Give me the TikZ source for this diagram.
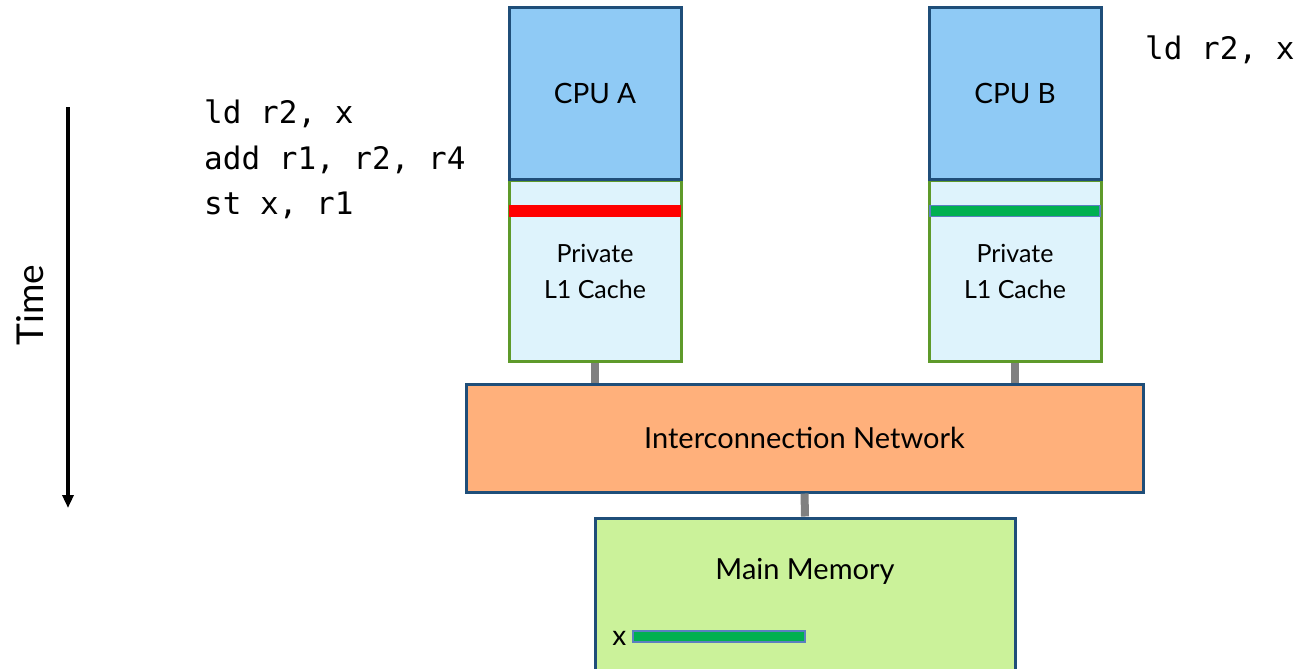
\documentclass[tikz,border=0pt]{standalone}
\usepackage{fontspec}
\setmainfont{Lato}
\newfontfamily\codefont{DejaVu Sans Mono}
\usetikzlibrary{arrows.meta}
\definecolor{cpufill}{HTML}{8FCAF5}
\definecolor{darkbord}{HTML}{1F4E79}
\definecolor{cachefill}{HTML}{DEF3FC}
\definecolor{cachebord}{HTML}{5E9A2A}
\definecolor{netfill}{HTML}{FFB07B}
\definecolor{memfill}{HTML}{CBF29A}
\definecolor{lgreen}{HTML}{00B050}
\definecolor{lblue}{HTML}{5A7FC0}
\definecolor{wire}{HTML}{808080}
\tikzset{
  cpubox/.style={draw=darkbord, fill=cpufill, line width=3pt, minimum width=172pt, minimum height=171pt, inner sep=0pt, font=\fontsize{28}{34}\selectfont},
  cachebox/.style={draw=cachebord, fill=cachefill, line width=3pt, minimum width=172pt, minimum height=181pt, inner sep=0pt, align=center, font=\fontsize{25}{36}\selectfont},
  netbox/.style={draw=darkbord, fill=netfill, line width=3pt, minimum width=677pt, minimum height=108pt, inner sep=0pt, font=\fontsize{29}{34}\selectfont},
  membox/.style={draw=darkbord, fill=memfill, line width=3pt, minimum width=420pt, minimum height=152pt, inner sep=0pt},
  code/.style={font=\codefont\fontsize{31}{45.5}\selectfont, align=left, inner sep=0pt},
  wireline/.style={draw=wire, line width=8pt},
}
\begin{document}
\begin{tikzpicture}[x=1pt,y=-1pt]
\useasboundingbox (0,0) rectangle (1298,669);
% CPU A side
\node[cachebox] (cacheA) at (595,271) {Private\\L1 Cache};
\node[cpubox] (cpuA) at (595,93.5) {CPU A};
\node[fill=red, minimum width=172pt, minimum height=12pt, inner sep=0pt] (lineA) at (595,211) {};
% CPU B side
\node[cachebox] (cacheB) at (1015,271) {Private\\L1 Cache};
\node[cpubox] (cpuB) at (1015,93.5) {CPU B};
\node[fill=lgreen, draw=lblue, line width=1.5pt, minimum width=170pt, minimum height=11pt, inner sep=0pt] (lineB) at (1015,211) {};
% network and memory
\node[netbox] (net) at (804.5,438) {Interconnection Network};
\node[membox] (mem) at (805,594) {};
\node[font=\fontsize{29}{34}\selectfont] (memlabel) at (805,571) {Main Memory};
\node[fill=lgreen, draw=lblue, line width=1.2pt, minimum width=172pt, minimum height=11pt, inner sep=0pt] (xbar) at (719,636.5) {};
\node[font=\fontsize{28}{32}\selectfont, anchor=east, inner sep=0pt] (xlabel) at ([xshift=-6pt,yshift=-2pt]xbar.west) {x};
% wires
\draw[wireline] (cacheA.south) -- (cacheA.south |- net.north);
\draw[wireline] (cacheB.south) -- (cacheB.south |- net.north);
\draw[wireline] (net.south) -- (mem.north);
% code
\node[code, anchor=north west] (codeA) at (204,100) {ld r2, x\\add r1, r2, r4\\st x, r1};
\node[code, anchor=north west] (codeB) at (1145,36) {ld r2, x};
% time arrow
\coordinate (tTop) at (68,107);
\coordinate (tBot) at (68,508);
\draw[line width=3.5pt, -{Triangle[length=13pt,width=11pt]}] (tTop) -- (tBot);
\node[rotate=90, font=\fontsize{37}{40}\selectfont] (time) at (30,305) {Time};
\end{tikzpicture}
\end{document}
